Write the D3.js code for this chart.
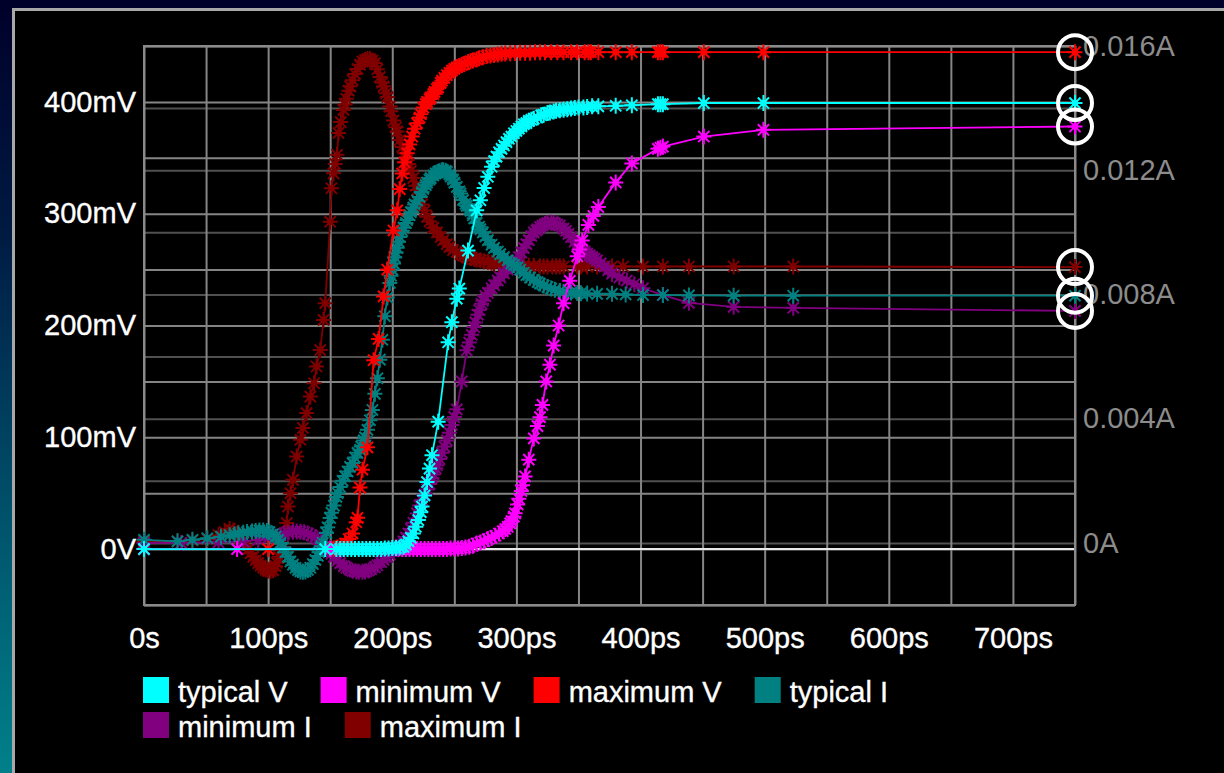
<!DOCTYPE html>
<html><head><meta charset="utf-8">
<script src="https://cdn.jsdelivr.net/npm/d3@7"></script>
<style>html,body{margin:0;padding:0;overflow:hidden;background:#000}
svg text{font-family:"Liberation Sans",Arial,sans-serif;}</style>
</head><body><svg id="c" width="1224" height="773"></svg>
<script>
// ---- data: time in ps, voltage in mV, current in mA ----
const xTicks = [0,100,200,300,400,500,600,700];
const xTickLabels = ["0s","100ps","200ps","300ps","400ps","500ps","600ps","700ps"];
const vTicks = [0,100,200,300,400];
const vTickLabels = ["0V","100mV","200mV","300mV","400mV"];
const iTicks = [0,4,8,12,16];
const iTickLabels = ["0A","0.004A","0.008A","0.012A","0.016A"];

const seriesNames = ["typical V","minimum V","maximum V","typical I","minimum I","maximum I"];
const seriesColors = ["#00ffff","#ff00ff","#ff0000","#008080","#800080","#800000"];
const seriesAxis = ["V","V","V","I","I","I"];

const typicalV = [[0,0],[146,0],[155,0],[158,0],[161,0],[164,0],[167,0],[170,0],[173,0],[176,0],[179,0],[182,0],[185,0],[188,0],[191,0],[194,0.5],[197,0.5],[200,1],[203,1],[206,1.5],[209,2],[211,4],[213,7],[215,10],[217,14],[219,20],[221,26],[223,33],[224,38],[226,48],[228,60],[230,72],[232,84],[237,114],[245,185],[248,203],[252,224],[254,233],[261,267],[268,303],[271,312],[274,323],[277,333],[280,342],[282,347],[284,351],[286,355],[288,358],[290,361],[292,364],[294,367],[296,369],[298,372],[300,374],[302,376],[304,378],[306,380],[308,381],[310,383],[312,384],[314,385],[317,386],[320,388],[322,388.5],[325,390],[327,390.5],[330,391.5],[332,392],[335,392.5],[338,393],[341,393.5],[344,394],[347,394.5],[350,395],[354,395],[357,395.5],[361,396],[366,396],[380,396.5],[393,397],[414,398],[416,398],[418,398],[451,399],[499,399],[750,399]];

const minimumV = [[0,0],[75,0],[150,0],[205,0],[208,0],[211,0],[214,0],[217,0],[220,0],[223,0],[226,0],[229,0],[232,0],[235,0],[238,0],[241,0],[244,0],[247,0.5],[250,0.5],[253,0.5],[256,1],[259,1.5],[262,2],[265,3],[268,5],[271,6],[274,7],[277,9],[280,10],[283,12],[286,14],[289,16],[291,18],[293,20],[295,23],[296,25],[298,29],[299,32],[301,40],[302,45],[304,52],[305,57],[307,65],[310,80],[314,99],[317,110],[319,118],[321,129],[324,150],[327,165],[330,182],[334,200],[338,220],[343,240],[349,262],[351,268],[353,276],[358,290],[362,298],[366,306],[380,328],[393,345],[414,358],[416,359],[418,360],[451,369],[499,375],[750,378]];

const maximumV = [[0,0],[100,0],[150,0],[153,0.5],[156,1.5],[159,3],[162,5],[165,9],[168,14],[171,24],[172,28],[174,55],[176,71],[180,91],[185,169],[189,188],[193,226],[196,250],[201,285],[204,303],[206,322],[208,336],[210,346],[212,354],[214,362],[216,369],[218,376],[220,381],[222,386],[223,389],[225,395],[227,398],[228,400],[230,402.5],[231,404],[233,407],[234,409],[236,411.5],[237,413],[239,417],[240,419],[242,421.5],[244,424],[246,426],[248,428],[250,429.5],[252,431],[254,432],[256,433],[258,434],[261,435.5],[263,436.3],[265,437],[268,438],[270,439],[273,440],[276,441],[279,441.5],[282,442],[285,442.5],[288,443],[291,443.3],[295,443.5],[299,443.8],[303,444],[307,444],[311,444],[315,444.3],[319,444.5],[323,444.5],[328,444.5],[333,444.5],[338,444.5],[344,444.5],[349,444.5],[355,444.5],[358,444.5],[360,444.5],[366,444.5],[380,444.5],[393,444.5],[414,444.5],[416,444.5],[418,444.5],[451,444.5],[499,444.5],[750,444.5]];

const typicalI = [[0,0.1],[27,0.05],[39,0.1],[51,0.15],[62,0.2],[69,0.25],[73,0.28],[76,0.3],[80,0.33],[83,0.35],[87,0.37],[90,0.38],[93,0.4],[96,0.4],[99,0.38],[101,0.35],[104,0.28],[106,0.2],[108,0.1],[110,0.0],[112,-0.15],[114,-0.3],[116,-0.45],[118,-0.6],[120,-0.7],[122,-0.8],[124,-0.87],[126,-0.92],[128,-0.93],[130,-0.92],[132,-0.87],[134,-0.8],[136,-0.68],[138,-0.55],[140,-0.42],[141,-0.3],[143,-0.1],[144,0.0],[147,0.32],[148,0.5],[150,0.8],[151,0.97],[153,1.2],[155,1.48],[156,1.6],[158,1.8],[160,2.0],[162,2.15],[164,2.3],[166,2.45],[168,2.57],[170,2.75],[172,2.9],[174,3.0],[175,3.1],[177,3.3],[178,3.4],[180,3.64],[182,3.95],[184,4.28],[186,4.8],[188,5.3],[190,5.9],[192,6.54],[194,7.3],[196,7.9],[198,8.37],[199,8.6],[200,8.8],[201,9.0],[202,9.2],[203,9.35],[204,9.5],[205,9.7],[206,9.85],[208,10.05],[209,10.15],[211,10.3],[212,10.4],[214,10.55],[215,10.65],[217,10.8],[218,10.9],[220,11.02],[222,11.14],[224,11.3],[225,11.4],[227,11.52],[228,11.6],[230,11.7],[231,11.75],[233,11.83],[235,11.9],[237,11.95],[238,11.97],[240,12.0],[241,12.0],[243,11.98],[244,11.95],[246,11.87],[247,11.8],[249,11.7],[250,11.6],[252,11.46],[254,11.32],[255,11.25],[257,11.04],[259,10.92],[260,10.85],[262,10.75],[263,10.7],[265,10.55],[266,10.45],[268,10.3],[270,10.18],[271,10.1],[273,10.0],[275,9.87],[277,9.75],[280,9.6],[282,9.5],[285,9.38],[287,9.3],[290,9.2],[293,9.1],[296,9.0],[298,8.95],[301,8.87],[303,8.8],[306,8.7],[308,8.62],[311,8.54],[314,8.47],[317,8.4],[319,8.35],[322,8.29],[325,8.24],[328,8.19],[331,8.15],[335,8.11],[338,8.08],[344,8.06],[349,8.05],[352,8.04],[357,8.03],[365,8.02],[377,8.02],[388,8.0],[402,7.98],[418,7.98],[439,7.97],[475,7.96],[523,7.96],[750,7.96]];

const minimumI = [[0,0],[30,0],[60,0.02],[80,0.05],[92,0.1],[100,0.15],[104,0.18],[107,0.2],[110,0.25],[113,0.3],[116,0.33],[120,0.36],[123,0.37],[126,0.36],[129,0.34],[132,0.3],[135,0.25],[138,0.18],[140,0.12],[143,0.02],[146,-0.1],[148,-0.2],[151,-0.35],[153,-0.45],[156,-0.57],[158,-0.65],[161,-0.75],[163,-0.8],[166,-0.86],[168,-0.9],[171,-0.92],[173,-0.93],[176,-0.93],[178,-0.92],[181,-0.89],[183,-0.85],[186,-0.78],[188,-0.72],[191,-0.62],[193,-0.55],[196,-0.45],[198,-0.38],[201,-0.25],[203,-0.2],[205,-0.15],[207,-0.05],[209,0.05],[211,0.17],[213,0.3],[215,0.45],[217,0.65],[220,0.95],[222,1.2],[224,1.38],[226,1.55],[228,1.72],[230,1.9],[232,2.1],[233,2.2],[235,2.4],[236,2.5],[238,2.7],[240,2.9],[242,3.1],[244,3.3],[246,3.55],[248,3.8],[250,4.05],[252,4.3],[256,5.2],[260,6.2],[262,6.45],[264,6.7],[266,6.95],[267,7.1],[269,7.35],[270,7.5],[272,7.7],[273,7.8],[275,7.95],[277,8.05],[280,8.2],[282,8.3],[285,8.45],[287,8.55],[290,8.68],[293,8.8],[296,8.92],[298,9.0],[300,9.1],[302,9.2],[304,9.35],[306,9.5],[308,9.62],[310,9.75],[312,9.88],[314,10.0],[316,10.06],[317,10.1],[319,10.17],[321,10.22],[323,10.27],[325,10.3],[328,10.31],[330,10.3],[333,10.26],[335,10.22],[338,10.12],[340,10.05],[342,9.95],[344,9.85],[347,9.7],[349,9.6],[351,9.52],[353,9.45],[355,9.38],[357,9.32],[359,9.26],[361,9.2],[363,9.15],[365,9.1],[368,9.0],[371,8.9],[374,8.78],[377,8.67],[383,8.55],[389,8.45],[395,8.33],[402,8.2],[418,7.98],[439,7.73],[475,7.6],[523,7.57],[750,7.47]];

const maximumI = [[0,0.05],[27,0.05],[39,0.08],[51,0.12],[60,0.25],[65,0.35],[69,0.45],[72,0.4],[75,0.3],[78,0.15],[80,0.05],[82,-0.08],[84,-0.2],[86,-0.33],[88,-0.45],[90,-0.56],[92,-0.65],[94,-0.73],[96,-0.8],[98,-0.86],[100,-0.9],[102,-0.9],[104,-0.88],[106,-0.75],[107,-0.64],[109,-0.45],[110,-0.35],[112,-0.13],[115,0.64],[116,1.17],[118,1.6],[120,2.03],[123,2.78],[126,3.32],[128,3.7],[131,4.18],[134,4.71],[137,5.14],[139,5.68],[142,6.21],[144.6,7.18],[146,7.72],[150,10.34],[151,11.42],[152.7,11.9],[154,12.2],[155.5,12.5],[156.7,13.2],[158.5,13.55],[160.7,13.94],[162,14.12],[163,14.3],[165,14.56],[166,14.7],[168,14.9],[170,15.1],[172,15.26],[174,15.4],[176,15.5],[178,15.55],[180,15.58],[182,15.58],[184,15.53],[186,15.45],[188,15.25],[190,15.0],[192,14.82],[193,14.7],[195,14.48],[196,14.36],[198,14.05],[199,13.9],[201,13.6],[203,13.38],[204,13.25],[206,12.97],[208,12.75],[210,12.55],[212,12.32],[213,12.2],[215,11.98],[217,11.75],[219,11.5],[220,11.36],[222,11.12],[224,10.9],[226,10.7],[228,10.5],[230,10.35],[233,10.15],[236,10.0],[239,9.85],[241,9.75],[244,9.62],[246,9.53],[249,9.43],[252,9.37],[255,9.3],[257,9.25],[260,9.2],[263,9.17],[266,9.14],[268,9.12],[271,9.1],[274,9.07],[277,9.05],[280,9.02],[282,9.0],[286,8.98],[290,8.97],[294,8.96],[298,8.95],[302,8.94],[306,8.93],[310,8.92],[314,8.92],[319,8.9],[322,8.9],[325,8.9],[329,8.9],[332,8.9],[335,8.9],[338,8.9],[349,8.9],[352,8.9],[357,8.9],[365,8.9],[377,8.9],[386,8.9],[402,8.9],[418,8.9],[439,8.9],[475,8.9],[523,8.9],[750,8.88]];

const seriesData = [typicalV, minimumV, maximumV, typicalI, minimumI, maximumI];

// ---- drawing ----
const W = 1224, H = 773;
const svg = d3.select('#c');
const defs = svg.append('defs');
const grad = defs.append('linearGradient').attr('id','bg').attr('x1',0).attr('y1',0).attr('x2',0).attr('y2',1);
[[0,'#00002a'],[0.3,'#001a42'],[0.55,'#00405f'],[0.78,'#006276'],[1,'#00808a']].forEach(s=>grad.append('stop').attr('offset',s[0]).attr('stop-color',s[1]));
svg.append('rect').attr('width',W).attr('height',H).attr('fill','url(#bg)');
svg.append('rect').attr('x',13.5).attr('y',9.5).attr('width',1400).attr('height',900)
  .attr('fill','#000').attr('stroke','#a8a8a8').attr('stroke-width',3);

const L=144, R=1075, T=46, B=605;
const x = d3.scaleLinear().domain([0,750]).range([L,R]);
const yV = d3.scaleLinear().domain([-50,450]).range([B,T]);
const yI = d3.scaleLinear().domain([-2,16]).range([B,T]);

// grid
const grid = svg.append('g');
grid.append('g').attr('transform',`translate(${R},0)`)
  .call(d3.axisLeft(yI).tickValues(d3.range(-2,16.01,2)).tickSize(R-L).tickFormat(''))
  .call(g=>g.select('.domain').remove())
  .selectAll('line').attr('stroke','#505050').attr('stroke-width',2);
grid.append('g').attr('transform',`translate(${L},0)`)
  .call(d3.axisRight(yV).tickValues(d3.range(-50,451,50)).tickSize(R-L).tickFormat(''))
  .call(g=>g.select('.domain').remove())
  .selectAll('line').attr('stroke','#858585').attr('stroke-width',2);
grid.append('g').attr('transform',`translate(0,${B})`)
  .call(d3.axisTop(x).tickValues(d3.range(0,751,50)).tickSize(B-T).tickFormat(''))
  .call(g=>g.select('.domain').remove())
  .selectAll('line').attr('stroke','#858585').attr('stroke-width',2);
grid.append('line').attr('x1',L).attr('x2',R).attr('y1',yV(0)).attr('y2',yV(0))
  .attr('stroke','#e6e6e6').attr('stroke-width',2);
grid.append('rect').attr('x',L).attr('y',T).attr('width',R-L).attr('height',B-T)
  .attr('fill','none').attr('stroke','#8a8a8a').attr('stroke-width',2);

// axes labels
const fs = 29;
const ax = svg.append('g').attr('transform',`translate(0,${B})`)
  .call(d3.axisBottom(x).tickValues(xTicks).tickFormat((d,i)=>xTickLabels[i]).tickSize(0).tickPadding(22));
ax.select('.domain').remove();
ax.selectAll('text').attr('fill','#ffffff').attr('stroke','#ffffff').attr('stroke-width',0.35).style('font-size',fs+'px');
const ayL = svg.append('g').attr('transform',`translate(${L},0)`)
  .call(d3.axisLeft(yV).tickValues(vTicks).tickFormat((d,i)=>vTickLabels[i]).tickSize(0).tickPadding(8));
ayL.select('.domain').remove();
ayL.selectAll('text').attr('fill','#ffffff').attr('stroke','#ffffff').attr('stroke-width',0.35).style('font-size',fs+'px');
const ayR = svg.append('g').attr('transform',`translate(${R},0)`)
  .call(d3.axisRight(yI).tickValues(iTicks).tickFormat((d,i)=>iTickLabels[i]).tickSize(0).tickPadding(8));
ayR.select('.domain').remove();
ayR.selectAll('text').attr('fill','#8c8c8c').style('font-size',fs+'px');

// series (drawn in reverse so typical V ends on top)
const star = 'M-7.5,0H7.5M0,-8V8M-5.6,-5.6L5.6,5.6M-5.6,5.6L5.6,-5.6';
const plot = svg.append('g');
for (let k = seriesData.length-1; k >= 0; k--) {
  const ys = seriesAxis[k]==='V' ? yV : yI;
  const col = seriesColors[k];
  const g = plot.append('g');
  g.append('path').datum(seriesData[k])
    .attr('d', d3.line().x(d=>x(d[0])).y(d=>ys(d[1])))
    .attr('fill','none').attr('stroke',col).attr('stroke-width',1.8);
  const m = g.selectAll('g.m').data(seriesData[k]).join('g').attr('class','m')
    .attr('transform',d=>`translate(${x(d[0])},${ys(d[1])})`);
  m.append('path').attr('d',star).attr('stroke',col).attr('stroke-width',2).attr('fill','none');
  m.append('circle').attr('r',3.2).attr('fill',col);
}

// end-point highlight rings
const rings = svg.append('g');
seriesData.forEach((s,k)=>{
  const ys = seriesAxis[k]==='V' ? yV : yI;
  const last = s[s.length-1];
  rings.append('circle').attr('cx',x(last[0])).attr('cy',ys(last[1])).attr('r',17)
    .attr('fill','none').attr('stroke','#ffffff').attr('stroke-width',4);
});

// legend (flow layout)
const leg = svg.append('g');
let lx = 143, ly = 677;
const rowH = 35, sq = 26, maxX = 1075;
seriesNames.forEach((n,k)=>{
  const it = leg.append('g');
  it.append('rect').attr('width',sq).attr('height',sq).attr('fill',seriesColors[k]);
  const t = it.append('text').attr('x',sq+9).attr('y',sq-1).attr('fill','#fff')
    .attr('stroke','#fff').attr('stroke-width',0.35)
    .style('font-size',fs+'px').text(n);
  const w = sq + 9 + t.node().getComputedTextLength();
  if (lx + w > maxX) { lx = 143; ly += rowH; }
  it.attr('transform',`translate(${lx},${ly})`);
  lx += w + 33;
});
</script></body></html>
